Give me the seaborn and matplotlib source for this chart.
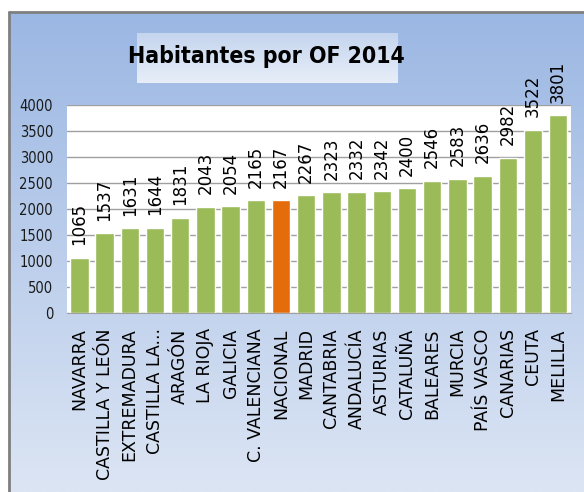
import numpy as np
import matplotlib
matplotlib.use('Agg')
import matplotlib.pyplot as plt
import seaborn as sns
from matplotlib.colors import LinearSegmentedColormap

# datos
regiones = ['NAVARRA', 'CASTILLA Y LEÓN', 'EXTREMADURA', 'CASTILLA LA...', 'ARAGÓN',
            'LA RIOJA', 'GALICIA', 'C. VALENCIANA', 'NACIONAL', 'MADRID',
            'CANTABRIA', 'ANDALUCÍA', 'ASTURIAS', 'CATALUÑA', 'BALEARES',
            'MURCIA', 'PAÍS VASCO', 'CANARIAS', 'CEUTA', 'MELILLA']
habitantes = [1065, 1537, 1631, 1644, 1831, 2043, 2054, 2165, 2167, 2267,
              2323, 2332, 2342, 2400, 2546, 2583, 2636, 2982, 3522, 3801]
y_ticks = [0, 500, 1000, 1500, 2000, 2500, 3000, 3500, 4000]

verde = '#9BBB59'
naranja = '#E46C0A'
colores = [naranja if r == 'NACIONAL' else verde for r in regiones]

sns.set_style('white')
plt.rcParams['font.family'] = ['DejaVu Sans']

W, H = 584, 492
fig = plt.figure(figsize=(W / 100, H / 100), dpi=100)
fig.patch.set_facecolor('white')

# fondo degradado del grafico
bg = fig.add_axes([8.5 / W, 0, 1, 1 - 12 / H], zorder=-2)
cmap = LinearSegmentedColormap.from_list('fondo', ['#9BB7E3', '#DCE5F4'])
bg.imshow(np.linspace(0, 1, 256).reshape(-1, 1), aspect='auto', cmap=cmap,
          extent=[0, 1, 0, 1])
bg.set_axis_off()
fig.add_artist(plt.Line2D([8.5 / W, 8.5 / W], [0, 1 - 12 / H], color='#7f7f7f', lw=2,
                          transform=fig.transFigure))
fig.add_artist(plt.Line2D([8.5 / W, 1], [1 - 12 / H, 1 - 12 / H], color='#7f7f7f', lw=2,
                          transform=fig.transFigure))

# caja del titulo
tb = fig.add_axes([137 / W, 1 - 83 / H, (398 - 137) / W, 50 / H], zorder=-1)
cmap_t = LinearSegmentedColormap.from_list('titulo', ['#C5D5EE', '#E7EEF8'])
tb.imshow(np.linspace(0, 1, 64).reshape(-1, 1), aspect='auto', cmap=cmap_t,
          extent=[0, 1, 0, 1])
tb.set_axis_off()
fig.text(266 / W, 1 - 57 / H, 'Habitantes por OF 2014', ha='center', va='center',
         fontsize=16.5, fontweight='bold', fontstretch='condensed', color='black')

ax = fig.add_axes([67 / W, 1 - 313 / H, (571 - 67) / W, (313 - 105) / H])
ax.set_facecolor('white')
sns.barplot(x=regiones, y=habitantes, hue=regiones, palette=colores, legend=False,
            width=0.73, saturation=1, ax=ax)

for cont in ax.containers:
    ax.bar_label(cont, rotation=90, padding=9, fontsize=12, color='black')

ax.set_ylim(0, 4000)
ax.set_xlim(-0.49, 19.51)
ax.set_yticks(y_ticks)
ax.yaxis.grid(True, color='#a0a0a0', lw=1)
ax.set_axisbelow(True)
for s in ['left', 'right', 'top']:
    ax.spines[s].set_visible(False)
ax.spines['bottom'].set_color('#a0a0a0')
ax.tick_params(axis='both', length=0)
ax.tick_params(axis='y', pad=10, labelsize=10.5, labelcolor='#1a1a1a')
ax.tick_params(axis='x', pad=11, labelsize=12.5, labelcolor='black')
for t in ax.get_yticklabels():
    t.set_fontstretch('condensed')
plt.setp(ax.get_xticklabels(), rotation=90)
ax.set_xlabel('')
ax.set_ylabel('')

fig.savefig('out.png', dpi=100)
